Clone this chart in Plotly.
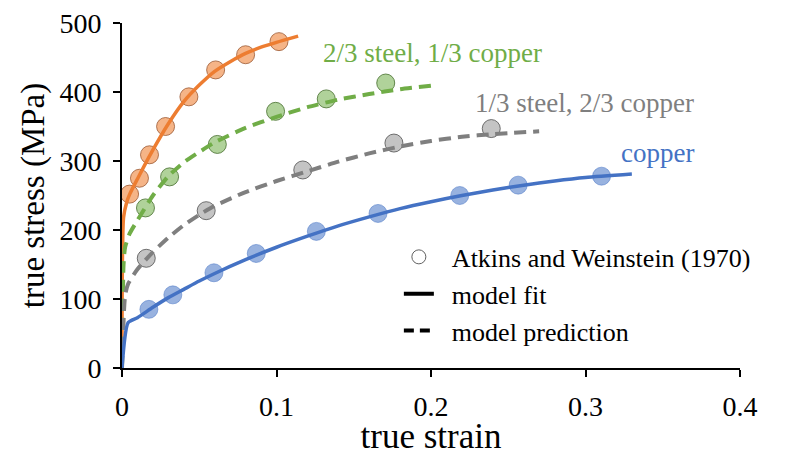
import plotly.graph_objects as go

# ---------------- data ----------------
steel_pts_x = [0.0049, 0.0113, 0.0178, 0.0282, 0.0433, 0.0606, 0.0800, 0.1016]
steel_pts_y = [252, 275, 309, 350, 393, 432, 454, 473]
steel_fit_x = [0, 0.001, 0.003, 0.005, 0.01, 0.02, 0.03, 0.04, 0.05, 0.06, 0.07, 0.08, 0.09, 0.10, 0.114]
steel_fit_y = [0, 218, 240, 252, 274, 316, 354, 386, 410, 430, 444, 456, 465, 472, 481]

mix2_pts_x = [0.0152, 0.0308, 0.0617, 0.0994, 0.1322, 0.1707]
mix2_pts_y = [232, 277, 324, 372, 390, 413]
mix2_fit_x = [0, 0.001, 0.002, 0.005, 0.01, 0.02, 0.03, 0.04, 0.05, 0.06, 0.08, 0.10, 0.12, 0.14, 0.16, 0.18, 0.20]
mix2_fit_y = [0, 150, 175, 195, 214, 250, 278, 298, 313, 327, 348, 364, 378, 389, 397, 404, 409]

mix1_pts_x = [0.0157, 0.0545, 0.117, 0.176, 0.239]
mix1_pts_y = [159, 228, 287, 326, 347]
mix1_fit_x = [0, 0.002, 0.004, 0.01, 0.02, 0.03, 0.04, 0.05, 0.06, 0.08, 0.10, 0.12, 0.14, 0.16, 0.18, 0.20, 0.22, 0.24, 0.27]
mix1_fit_y = [0, 105, 122, 143, 168, 189, 207, 222, 235, 255, 271, 285, 299, 311, 321, 329, 335, 339, 343]

copper_pts_x = [0.0174, 0.0329, 0.0595, 0.0869, 0.1258, 0.1657, 0.2186, 0.2564, 0.3104]
copper_pts_y = [85, 106, 138, 166, 198, 224, 250, 265, 278]
copper_fit_x = [0, 0.004, 0.01, 0.02, 0.03, 0.04, 0.05, 0.06, 0.08, 0.10, 0.12, 0.14, 0.16, 0.18, 0.20, 0.22, 0.24, 0.26, 0.28, 0.30, 0.33]
copper_fit_y = [0, 66, 73, 88, 102, 114, 126, 137, 157, 175, 191, 206, 219, 231, 241, 250, 258, 265, 271, 276, 281]

x_ticks = [0, 0.1, 0.2, 0.3, 0.4]
x_tick_labels = ["0", "0.1", "0.2", "0.3", "0.4"]
y_ticks = [0, 100, 200, 300, 400, 500]

series_labels = ["steel", "2/3 steel, 1/3 copper", "1/3 steel, 2/3 copper", "copper"]
label_x = [0.0716, 0.2008, 0.2995, 0.3468]
label_y = [503, 457, 384, 312]

legend_names = ["Atkins and Weinstein (1970)", "model fit", "model prediction"]

# ---------------- style ----------------
FONT = "Liberation Serif, Times New Roman, serif"
ORANGE, GREEN, GRAY, BLUE = "#ED7D31", "#70AD47", "#7F7F7F", "#4472C4"

fig = go.Figure()

pts = [
    (steel_pts_x, steel_pts_y, "rgba(237,125,49,0.58)", "rgba(150,80,40,0.75)"),
    (mix2_pts_x, mix2_pts_y, "rgba(112,173,71,0.55)", "rgba(70,110,45,0.8)"),
    (mix1_pts_x, mix1_pts_y, "rgba(165,165,165,0.65)", "rgba(80,80,80,0.8)"),
    (copper_pts_x, copper_pts_y, "rgba(68,114,196,0.55)", "rgba(68,114,196,0.5)"),
]
for xs, ys, fill, edge in pts:
    fig.add_trace(go.Scatter(x=xs, y=ys, mode="markers", showlegend=False,
                             marker=dict(size=18, color=fill, line=dict(color=edge, width=1))))

lines = [
    (steel_fit_x, steel_fit_y, ORANGE, "solid"),
    (mix2_fit_x, mix2_fit_y, GREEN, "12px,7px"),
    (mix1_fit_x, mix1_fit_y, GRAY, "12px,7px"),
    (copper_fit_x, copper_fit_y, BLUE, "solid"),
]
for xs, ys, col, dash in lines:
    fig.add_trace(go.Scatter(x=xs, y=ys, mode="lines", showlegend=False,
                             line=dict(color=col, width=3.5 if dash == "solid" else 4, dash=dash,
                                       shape="spline", smoothing=0.6)))

# legend entries
pad = "\u00a0\u00a0"
fig.add_trace(go.Scatter(x=[None], y=[None], mode="markers", name=pad + legend_names[0],
                         marker=dict(size=14, color="white", line=dict(color="#606060", width=1))))
fig.add_trace(go.Scatter(x=[None], y=[None], mode="lines", name=pad + legend_names[1],
                         line=dict(color="black", width=4)))
fig.add_trace(go.Scatter(x=[None], y=[None], mode="lines", name=pad + legend_names[2],
                         line=dict(color="black", width=4, dash="10px,6px")))

label_colors = [ORANGE, GREEN, GRAY, BLUE]
for t, lx, ly, c in zip(series_labels, label_x, label_y, label_colors):
    fig.add_annotation(x=lx, y=ly, text=t, showarrow=False, xanchor="center", yanchor="middle",
                       font=dict(family=FONT, size=27, color=c))

# the page body adds an 8px offset, so the figure is 8px smaller in each direction
fig.update_layout(
    width=777, height=448,
    margin=dict(l=114, r=45, t=15, b=88),
    paper_bgcolor="white", plot_bgcolor="white",
    font=dict(family=FONT, size=27, color="black"),
    legend=dict(x=0.448, xanchor="left", y=0.39, yanchor="top", bgcolor="rgba(0,0,0,0)",
                font=dict(family=FONT, size=26), tracegroupgap=0, itemwidth=30),
)
fig.update_xaxes(range=[0, 0.4], tickvals=x_ticks, ticktext=x_tick_labels, showgrid=False, zeroline=False,
                 showline=True, linecolor="black", linewidth=2, ticks="outside", ticklen=7, tickwidth=2,
                 tickcolor="black", tickfont=dict(family=FONT, size=28), ticklabelstandoff=5,
                 automargin=False, ticklabeloverflow="allow",
                 title=dict(text="true strain", font=dict(family=FONT, size=35), standoff=4))
fig.update_yaxes(range=[0, 500], tickvals=y_ticks, showgrid=False, zeroline=False,
                 showline=True, linecolor="black", linewidth=2, ticks="outside", ticklen=7, tickwidth=2,
                 tickcolor="black", tickfont=dict(family=FONT, size=28), ticklabelstandoff=6,
                 automargin=False, ticklabeloverflow="allow",
                 title=dict(text="true stress (MPa)", font=dict(family=FONT, size=33), standoff=5))

fig.write_html("out.html")
